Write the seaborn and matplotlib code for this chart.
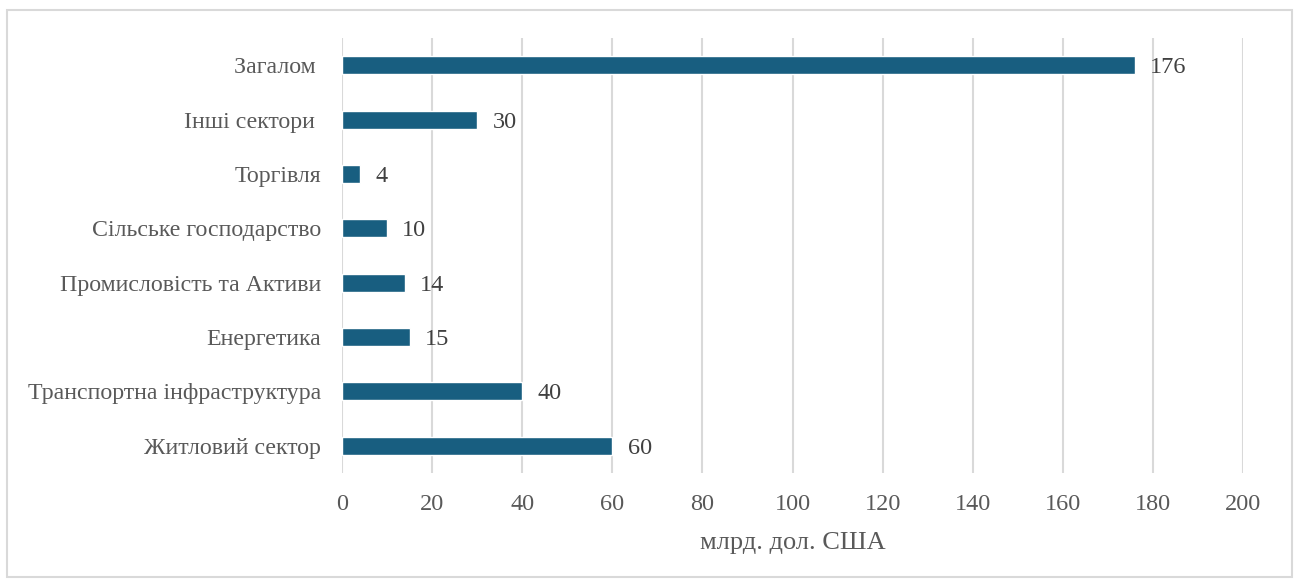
import matplotlib
matplotlib.use("Agg")
import matplotlib.pyplot as plt
import seaborn as sns
import pandas as pd
from matplotlib.patches import Rectangle

categories = ["Загалом ", "Інші сектори ", "Торгівля", "Сільське господарство",
              "Промисловість та Активи", "Енергетика", "Транспортна інфраструктура",
              "Житловий сектор"]
values = [176, 30, 4, 10, 14, 15, 40, 60]
x_ticks = [0, 20, 40, 60, 80, 100, 120, 140, 160, 180, 200]
x_label = "млрд. дол. США"

sns.set_theme(style="white")
plt.rcParams['font.family'] = ['Liberation Serif', 'DejaVu Serif']

text_color = "#595959"
bar_color = "#185E80"
grid_color = "#D9D9D9"

df = pd.DataFrame({"category": categories, "value": values})

fig = plt.figure(figsize=(12.95, 5.79), dpi=100)
ax = fig.add_axes([342/1295, 1 - 473/579, (1243 - 342)/1295, (473 - 38)/579])

sns.barplot(data=df, x="value", y="category", orient="h", color=bar_color,
            saturation=1, width=0.33, ax=ax, order=categories)

ax.set_xlim(0, 200)
ax.set_xticks(x_ticks)
ax.set_xticklabels([str(t) for t in x_ticks], fontsize=17.5, color=text_color)
ax.set_ylim(len(categories) - 0.5, -0.5)
for lbl in ax.get_yticklabels():
    lbl.set_fontsize(17.2)
    lbl.set_color(text_color)
ax.set_ylabel("")
ax.set_xlabel(x_label, fontsize=19, color=text_color, labelpad=12)
ax.tick_params(axis="x", length=0, pad=15)
ax.tick_params(axis="y", length=0, pad=15)

ax.xaxis.grid(True, color=grid_color, linewidth=1.5)
ax.set_axisbelow(True)
for s in ax.spines.values():
    s.set_visible(False)

for i, v in enumerate(values):
    ax.annotate(str(v), xy=(v, i), xytext=(11, 0), textcoords="offset points",
                va="center_baseline", ha="left", fontsize=17.5, color="#404040")

fig.patches.append(Rectangle((7/1295, 1 - 577/579), (1292 - 7)/1295, (577 - 10)/579,
                             transform=fig.transFigure, fill=False,
                             edgecolor=grid_color, linewidth=1.5))

fig.savefig("out.png", dpi=100)
